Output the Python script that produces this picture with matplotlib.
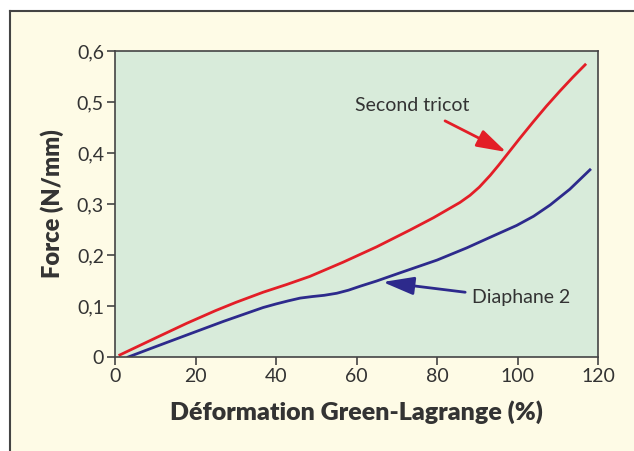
import matplotlib
matplotlib.use("Agg")
import matplotlib.pyplot as plt
from matplotlib.lines import Line2D
from matplotlib.ticker import FuncFormatter

# Second tricot (red)
tricot_x = [1.2, 10, 17.8, 25, 30, 36.8, 42.6, 48.4, 56.7, 65, 73.3, 79.1, 85.7, 88.2,
            90.5, 93.2, 95.3, 97.3, 100.5, 103.9, 107.2, 110.6, 113.8, 116.8]
tricot_y = [0.004, 0.037, 0.066, 0.091, 0.107, 0.127, 0.142, 0.158, 0.186, 0.216, 0.249,
            0.273, 0.303, 0.317, 0.333, 0.356, 0.376, 0.396, 0.428, 0.461, 0.492, 0.522,
            0.549, 0.573]

# Diaphane 2 (blue)
diaphane_x = [3.3, 10, 17.8, 27, 36.8, 40, 43, 46, 49, 52, 55.1, 58, 61, 65, 70.8, 80,
              87.4, 93, 99.8, 104, 108.1, 113, 118]
diaphane_y = [0.0, 0.02, 0.043, 0.07, 0.097, 0.104, 0.110, 0.1155, 0.1185, 0.121, 0.125,
              0.131, 0.139, 0.149, 0.165, 0.19, 0.214, 0.234, 0.258, 0.276, 0.298, 0.329,
              0.367]

xticks = [0, 20, 40, 60, 80, 100, 120]
yticks = [0, 0.1, 0.2, 0.3, 0.4, 0.5, 0.6]

plt.rcParams['font.family'] = ['Lato', 'DejaVu Sans']
txt = '#333333'
red = '#e31e27'
blue = '#2d2a8c'

fig = plt.figure(figsize=(6.34, 4.51), dpi=100)
fig.patch.set_facecolor('white')

# cream panel with top/left border
panel = plt.Rectangle((10 / 634, -0.1), 1.1, (1 - 11 / 451) + 0.1, transform=fig.transFigure,
                      facecolor='#fefbe6', edgecolor='none', zorder=-10)
fig.patches.append(panel)
fig.add_artist(Line2D([10 / 634, 10 / 634], [0, 1 - 11 / 451], transform=fig.transFigure,
                      color='#444444', lw=1.5, zorder=-5))
fig.add_artist(Line2D([10 / 634, 1], [1 - 11 / 451, 1 - 11 / 451], transform=fig.transFigure,
                      color='#444444', lw=1.5, zorder=-5))

ax = fig.add_axes([115 / 634, 1 - 357 / 451, (598 - 115) / 634, (357 - 51) / 451])
ax.set_facecolor('#d8ebda')
ax.plot(tricot_x, tricot_y, color=red, lw=2, solid_joinstyle='round')
ax.plot(diaphane_x, diaphane_y, color=blue, lw=2, solid_joinstyle='round')

ax.set_xlim(0, 120)
ax.set_ylim(0, 0.6)
ax.set_xticks(xticks)
ax.set_yticks(yticks)
ax.yaxis.set_major_formatter(FuncFormatter(lambda v, p: ('%g' % round(v, 1)).replace('.', ',')))
ax.tick_params(direction='out', length=6, width=1.2, color='#444444', labelsize=14,
               labelcolor=txt, pad=2)
for s in ax.spines.values():
    s.set_color('#444444')
    s.set_linewidth(1.2)

ax.set_xlabel('Déformation Green-Lagrange (%)', fontsize=18, fontweight='heavy',
              color=txt, labelpad=11)
ax.set_ylabel('Force (N/mm)', fontsize=17, fontweight='heavy', color=txt, labelpad=9)

ax.annotate('', xy=(97.2, 0.402), xytext=(82, 0.463),
            arrowprops=dict(arrowstyle='-|>,head_length=1.8,head_width=0.55',
                            color=red, lw=2, shrinkA=0, shrinkB=0))
ax.text(73.8, 0.494, 'Second tricot', fontsize=14, color=txt, ha='center', va='center')
ax.annotate('', xy=(66.5, 0.147), xytext=(87, 0.127),
            arrowprops=dict(arrowstyle='-|>,head_length=1.9,head_width=0.55',
                            color=blue, lw=2, shrinkA=0, shrinkB=0))
ax.text(88.7, 0.117, 'Diaphane 2', fontsize=14, color=txt, ha='left', va='center')

fig.savefig('out.png', dpi=100)
